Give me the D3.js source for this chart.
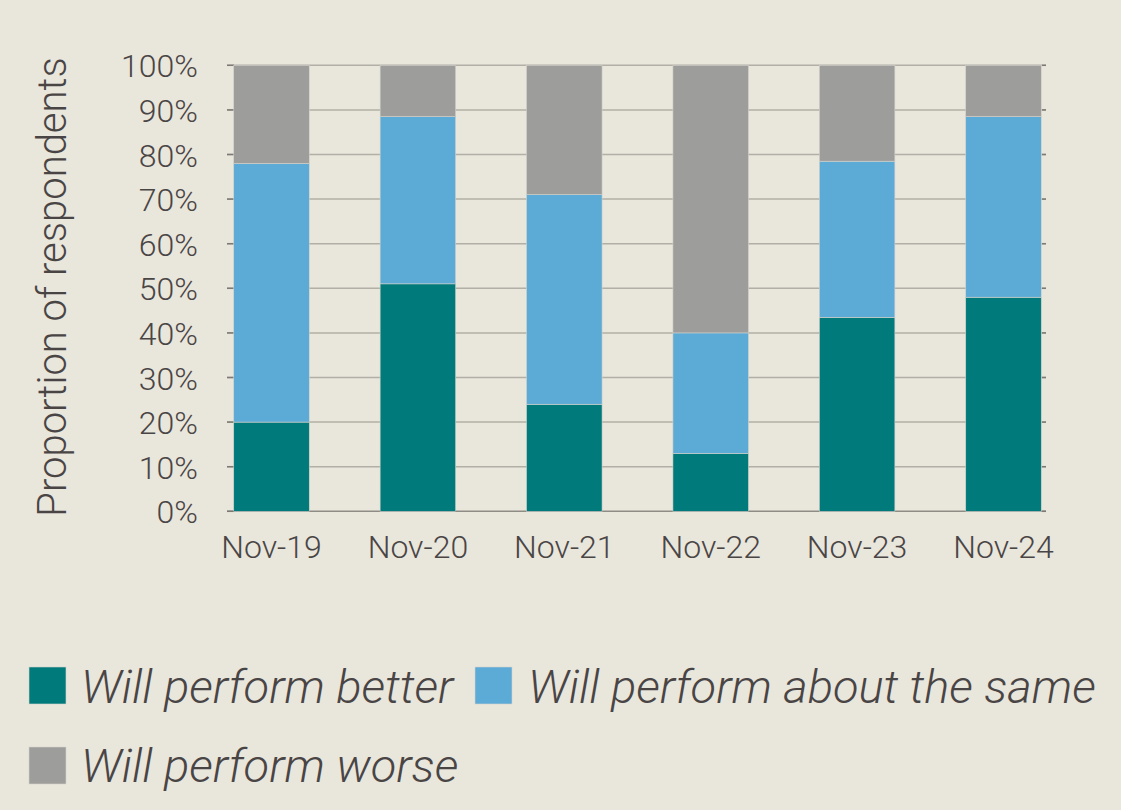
<!DOCTYPE html>
<html>
<head>
<meta charset="utf-8">
<script src="https://cdn.jsdelivr.net/npm/d3@7"></script>
<style>
  html, body { margin: 0; padding: 0; background: #e9e6dc; }
  svg { display: block; }
  text { font-family: Roboto, "Liberation Sans", sans-serif; font-weight: 300; fill: #494545; }
</style>
</head>
<body>
<svg id="chart" width="1121" height="810"></svg>
<script>
const categories = ["Nov-19", "Nov-20", "Nov-21", "Nov-22", "Nov-23", "Nov-24"];
const better = [20, 51, 24, 13, 43.5, 48];
const same   = [58, 37.5, 47, 27, 35, 40.5];
const worse  = [22, 11.5, 29, 60, 21.5, 11.5];
const seriesNames = ["Will perform better", "Will perform about the same", "Will perform worse"];
const seriesKeys = ["better", "same", "worse"];
const seriesColors = ["#007a7a", "#5caad6", "#9d9d9b"];
const yTicks = [0, 10, 20, 30, 40, 50, 60, 70, 80, 90, 100];
const yTitle = "Proportion of respondents";

const rows = categories.map((c, i) => ({ cat: c, better: better[i], same: same[i], worse: worse[i] }));
const stacked = d3.stack().keys(seriesKeys)(rows);

const svg = d3.select("#chart");
svg.append("rect").attr("width", 1121).attr("height", 810).attr("fill", "#e9e6dc");

const y = d3.scaleLinear().domain([0, 100]).range([511.3, 65.3]);
const x = d3.scaleBand().domain(categories).range([198.3, 1076.7]).paddingInner(0.484).paddingOuter(0.242);
const color = d3.scaleOrdinal().domain(seriesKeys).range(seriesColors);

const gridX0 = 227, gridX1 = 1046;

// gridlines
svg.append("g").selectAll("line").data(yTicks).join("line")
  .attr("x1", gridX0).attr("x2", gridX1)
  .attr("y1", d => y(d)).attr("y2", d => y(d))
  .attr("stroke", d => d === 0 ? "#8f8c86" : "#b2afa6")
  .attr("stroke-width", 1.5);

// small darker ticks at both ends
const tickG = svg.append("g");
tickG.selectAll("line.l").data(yTicks).join("line").attr("class", "l")
  .attr("x1", gridX0).attr("x2", gridX0 + 7)
  .attr("y1", d => y(d)).attr("y2", d => y(d))
  .attr("stroke", "#7d7a75").attr("stroke-width", 1.5);
tickG.selectAll("line.r").data(yTicks).join("line").attr("class", "r")
  .attr("x1", gridX1 - 4).attr("x2", gridX1)
  .attr("y1", d => y(d)).attr("y2", d => y(d))
  .attr("stroke", "#7d7a75").attr("stroke-width", 1.5);

// bars
svg.append("g").selectAll("g").data(stacked).join("g")
  .attr("fill", d => color(d.key))
  .selectAll("rect").data(d => d).join("rect")
  .attr("x", d => x(d.data.cat))
  .attr("width", x.bandwidth())
  .attr("y", d => y(d[1]))
  .attr("height", d => y(d[0]) - y(d[1]))
  .attr("stroke", "#d6d3cb").attr("stroke-width", 0.6);

// y axis labels
const yAxis = d3.axisLeft(y).tickValues(yTicks).tickFormat(d => d + "%").tickSize(0).tickPadding(0);
const yg = svg.append("g").attr("transform", "translate(198,0)").call(yAxis);
yg.select(".domain").remove();
yg.selectAll("text").attr("font-size", 32).attr("dy", "0.36em")
  .style("font-family", "Roboto, sans-serif").style("font-weight", 300).attr("fill", "#494545");

// x axis labels
const xAxis = d3.axisBottom(x).tickSize(0).tickPadding(0);
const xg = svg.append("g").attr("transform", "translate(0,535)").call(xAxis);
xg.select(".domain").remove();
xg.selectAll("text").attr("font-size", 32).attr("dy", "0.71em")
  .style("font-family", "Roboto, sans-serif").style("font-weight", 300).attr("fill", "#494545");

// y title
svg.append("text")
  .attr("transform", "translate(66,287) rotate(-90)")
  .attr("text-anchor", "middle")
  .attr("font-size", 40)
  .text(yTitle);

// legend
const legendPos = [
  { sx: 29, sy: 667, tx: 81, ty: 703 },
  { sx: 475, sy: 667, tx: 528, ty: 703 },
  { sx: 29, sy: 747, tx: 81, ty: 782 }
];
const lg = svg.append("g");
seriesNames.forEach((name, i) => {
  const p = legendPos[i];
  lg.append("rect").attr("x", p.sx).attr("y", p.sy).attr("width", 37).attr("height", 37)
    .attr("fill", seriesColors[i]).attr("stroke", "#d6d3cb").attr("stroke-width", 0.6);
  lg.append("text").attr("x", p.tx).attr("y", p.ty)
    .attr("font-size", 47).attr("font-style", "italic")
    .text(name);
});
</script>
</body>
</html>
